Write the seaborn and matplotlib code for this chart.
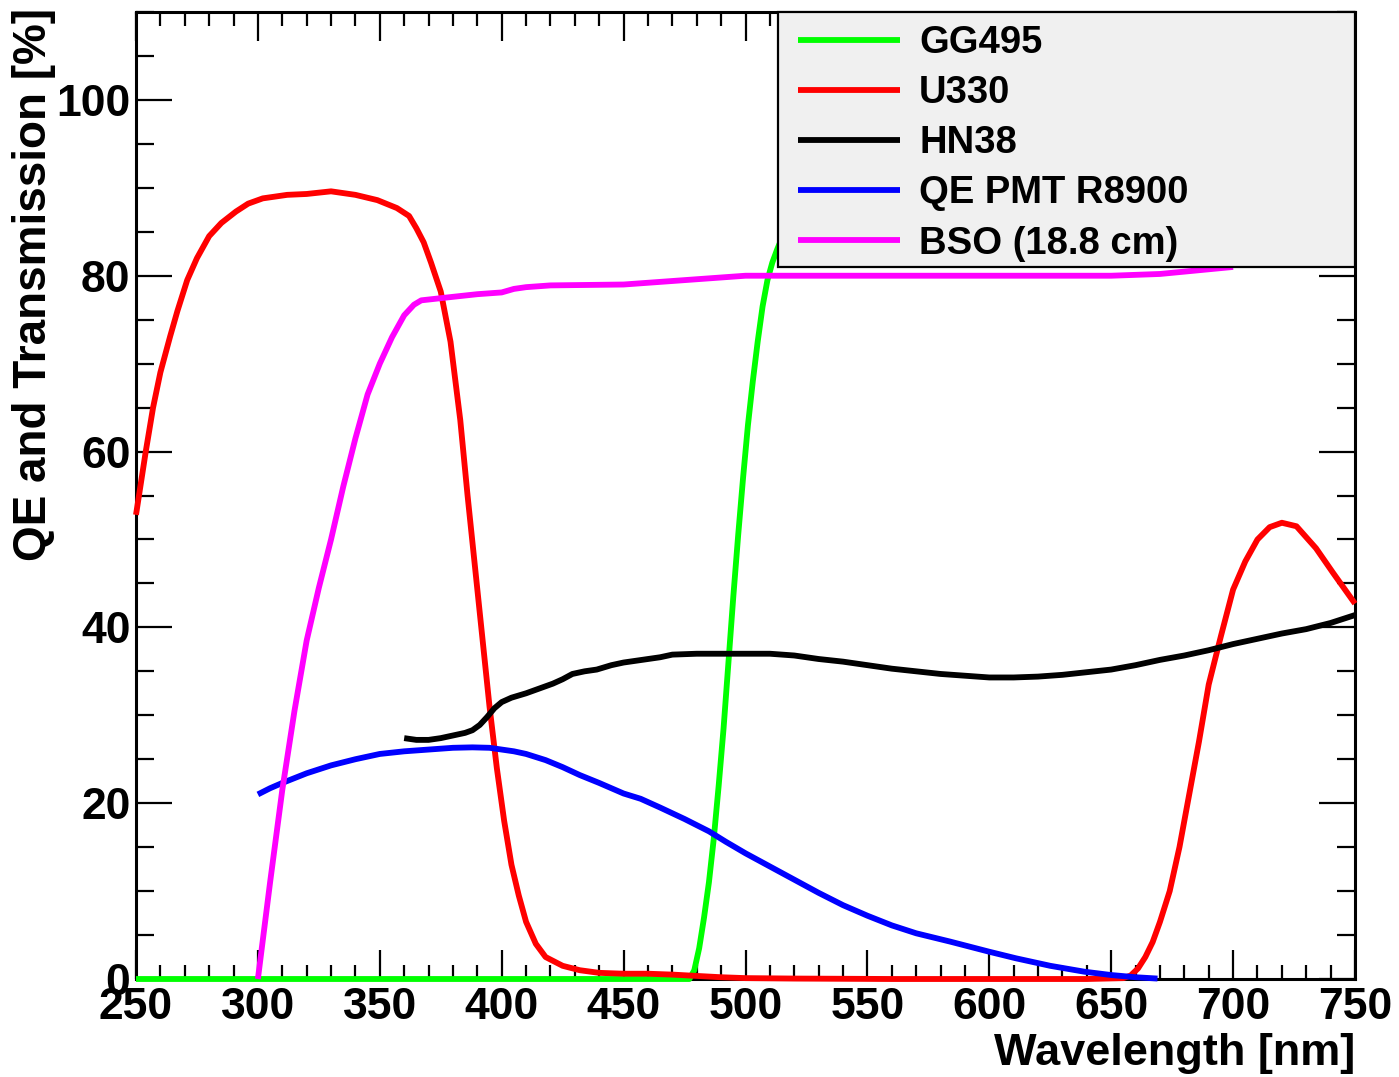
import matplotlib
matplotlib.use("Agg")
import matplotlib.pyplot as plt
from matplotlib.patches import Rectangle
from matplotlib.ticker import MultipleLocator
import pandas as pd
import seaborn as sns

# Series names and colours (legend order = drawing order)
series_names = ["GG495", "U330", "HN38", "QE PMT R8900", "BSO (18.8 cm)"]
series_colors = ["#00ff00", "#ff0000", "#000000", "#0000ff", "#ff00ff"]

# GG495 long-pass filter transmission [%]
gg495_wl = [250, 470, 477, 479, 481, 483, 485, 487, 489, 491, 493, 495, 497, 499, 501,
            503, 505, 507, 509, 511, 513, 516, 520, 530, 550, 600, 650, 700, 750]
gg495_val = [0, 0, 0, 1, 3.5, 7, 11, 16, 22, 28.5, 36, 43.5, 50.5, 57, 63,
             68, 72.5, 76.5, 79.5, 81.5, 83, 85, 87, 89, 90, 91, 91, 91, 91]

# U330 band-pass filter transmission [%]
u330_wl = [250, 254, 257, 260, 264, 267, 271, 275, 280, 285, 291, 296, 302, 312, 320,
           330, 340, 349, 357, 362, 365, 368, 371, 375, 379, 383, 386, 389, 392, 395,
           398, 401, 404, 407, 410, 414, 418, 425, 432, 440, 450, 460, 470, 480, 490,
           500, 520, 560, 600, 640, 655, 658, 661, 664, 667, 670, 674, 678, 682, 686,
           690, 695, 700, 705, 710, 715, 720, 726, 734, 741, 750]
u330_val = [52.8, 60, 65, 69, 73.1, 76, 79.5, 82, 84.5, 86, 87.3, 88.2, 88.8, 89.2, 89.3,
            89.6, 89.2, 88.6, 87.7, 86.8, 85.4, 83.8, 81.5, 78.2, 72.5, 63.6, 55, 47, 39, 31,
            24, 18, 13, 9.5, 6.5, 4, 2.5, 1.5, 1.0, 0.7, 0.6, 0.6, 0.5, 0.35, 0.2,
            0.1, 0.05, 0, 0, 0, 0.1, 0.4, 1.2, 2.5, 4.2, 6.5, 10, 15, 21, 27,
            33.5, 39, 44.3, 47.5, 50, 51.4, 51.9, 51.5, 49, 46.2, 42.7]

# HN38 filter transmission [%]
hn38_wl = [360, 365, 370, 375, 380, 385, 388, 391, 394, 397, 400, 404, 410, 415, 421,
           425, 429, 434, 439, 445, 450, 455, 460, 465, 470, 480, 490, 500, 510, 520,
           530, 540, 550, 560, 570, 580, 590, 600, 610, 620, 630, 640, 650, 660, 670,
           680, 690, 700, 710, 720, 730, 740, 750]
hn38_val = [27.4, 27.2, 27.2, 27.4, 27.7, 28.0, 28.3, 28.9, 29.8, 30.8, 31.5, 32.0, 32.5, 33.0, 33.6,
            34.1, 34.7, 35.0, 35.2, 35.7, 36.0, 36.2, 36.4, 36.6, 36.9, 37.0, 37.0, 37.0, 37.0, 36.8,
            36.4, 36.1, 35.7, 35.3, 35.0, 34.7, 34.5, 34.3, 34.3, 34.4, 34.6, 34.9, 35.2, 35.7, 36.3,
            36.8, 37.4, 38.1, 38.7, 39.3, 39.8, 40.5, 41.4]

# Quantum efficiency of PMT R8900 [%]
qe_wl = [300, 305, 310, 320, 330, 340, 350, 360, 370, 380, 388, 395, 400, 405, 410,
         418, 425, 432, 440, 450, 457, 465, 475, 485, 492, 500, 510, 520, 530, 540,
         550, 560, 570, 584, 600, 611, 625, 639, 650, 660, 669]
qe_val = [21, 21.7, 22.3, 23.4, 24.3, 25.0, 25.6, 25.9, 26.1, 26.3, 26.35, 26.3, 26.1, 25.9, 25.6,
          24.9, 24.1, 23.2, 22.3, 21.1, 20.5, 19.5, 18.2, 16.8, 15.6, 14.3, 12.8, 11.3, 9.8, 8.4,
          7.2, 6.1, 5.2, 4.25, 3.1, 2.35, 1.5, 0.83, 0.45, 0.2, 0.05]

# BSO crystal transmission, 18.8 cm [%]
bso_wl = [300, 305, 310, 315, 320, 325, 330, 335, 340, 345, 350, 355, 360, 364, 367,
          380, 390, 400, 405, 410, 420, 450, 470, 490, 500, 550, 600, 650, 670, 700]
bso_val = [0, 11, 21.5, 30.5, 38.5, 44.5, 50, 56, 61.5, 66.5, 70, 73, 75.5, 76.7, 77.2,
           77.6, 77.9, 78.1, 78.5, 78.7, 78.9, 79.0, 79.4, 79.8, 80.0, 80.0, 80.0, 80.0, 80.2, 81.0]

frames = []
for name, wl, val in zip(series_names,
                         [gg495_wl, u330_wl, hn38_wl, qe_wl, bso_wl],
                         [gg495_val, u330_val, hn38_val, qe_val, bso_val]):
    frames.append(pd.DataFrame({"wavelength": wl, "value": val, "series": name}))
df = pd.concat(frames, ignore_index=True)

sns.set_style("ticks")
plt.rcParams["font.family"] = ["Liberation Sans", "DejaVu Sans"]
plt.rcParams["font.weight"] = "bold"
for key in ["text.color", "axes.labelcolor", "xtick.color", "ytick.color", "axes.edgecolor"]:
    plt.rcParams[key] = "black"

fig = plt.figure(figsize=(13.99, 10.77), dpi=100)
ax = fig.add_axes([136 / 1399, 98 / 1077, 1219 / 1399, 967 / 1077])

sns.lineplot(data=df, x="wavelength", y="value", hue="series", hue_order=series_names,
             palette=series_colors, estimator=None, sort=False, linewidth=4.2,
             legend=False, ax=ax)
for line in ax.lines:
    line.set_clip_on(False)
    line.set_zorder(3)
    line.set_solid_capstyle("butt")
    line.set_solid_joinstyle("round")

ax.set_xlim(250, 750)
ax.set_ylim(0, 110)
ax.xaxis.set_major_locator(MultipleLocator(50))
ax.xaxis.set_minor_locator(MultipleLocator(10))
ax.yaxis.set_major_locator(MultipleLocator(20))
ax.yaxis.set_minor_locator(MultipleLocator(5))

for sp in ax.spines.values():
    sp.set_linewidth(2.2)
    sp.set_visible(True)
    sp.set_color("black")

ax.tick_params(axis="both", which="both", direction="in", top=True, right=True,
               width=1.6, labelsize=32, colors="black")
ax.tick_params(axis="x", which="major", length=21, pad=6)
ax.tick_params(axis="x", which="minor", length=10)
ax.tick_params(axis="y", which="major", length=26, pad=4)
ax.tick_params(axis="y", which="minor", length=13)
for lab in ax.get_xticklabels() + ax.get_yticklabels():
    lab.set_fontweight("bold")

ax.set_xlabel("Wavelength [nm]", fontsize=32.5, fontweight="bold", loc="right", labelpad=3)
ax.set_ylabel("QE and Transmission [%]", fontsize=33, fontweight="bold", loc="top")
ax.yaxis.set_label_coords(-0.066, 1.004)

# Legend box (opaque, drawn over the curves)
box = Rectangle((642 / 1219, 712 / 967), 577 / 1219, 255 / 967, transform=ax.transAxes,
                facecolor="#f0f0f0", edgecolor="black", linewidth=1.6, zorder=4, clip_on=False)
ax.add_patch(box)
leg = ax.legend(handles=ax.lines[:5], labels=series_names, loc="upper left",
                bbox_to_anchor=(662 / 1219, 1 - 13 / 967), borderaxespad=0, borderpad=0,
                frameon=False, handlelength=2.67, handletextpad=0.5,
                labelspacing=0.37, prop={"weight": "bold", "size": 27.5})
leg.set_zorder(5)

fig.savefig("out.png", dpi=100)
